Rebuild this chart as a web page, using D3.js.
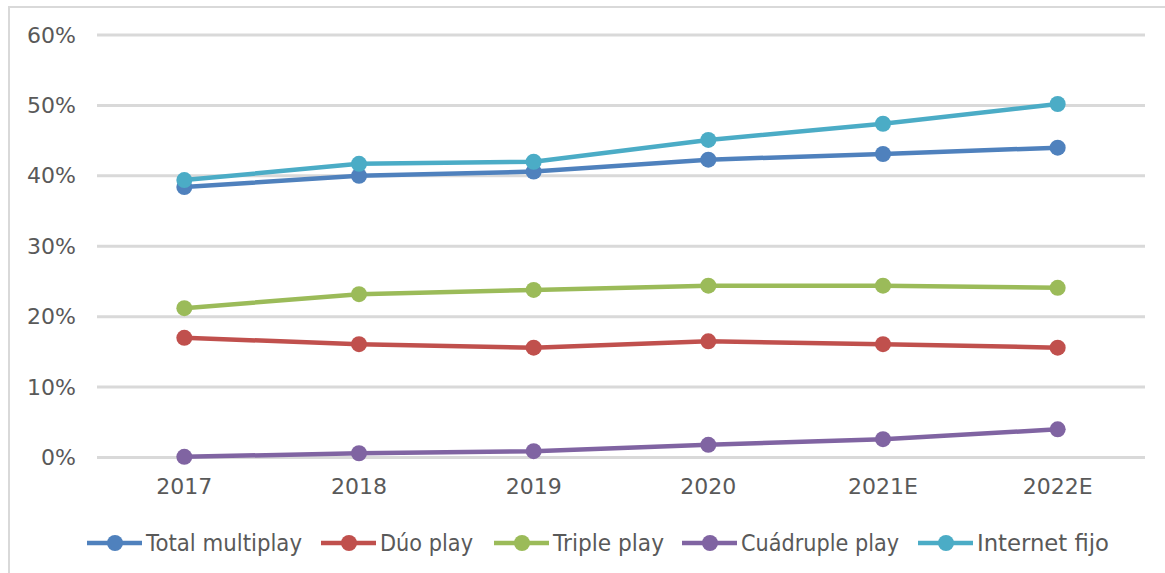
<!DOCTYPE html>
<html>
<head>
<meta charset="utf-8">
<script src="https://cdn.jsdelivr.net/npm/d3@7"></script>
<style>
  body { margin: 0; background: #fff; }
  text { font-family: "DejaVu Sans", Verdana, sans-serif; fill: #595959; }
</style>
</head>
<body>
<div id="chart"></div>
<script>
// categories and series values (percent)
let years = ["2017", "2018", "2019", "2020", "2021E", "2022E"];
let totalMultiplay = [38.4, 40.0, 40.6, 42.3, 43.1, 44.0];
let duoPlay = [17.0, 16.1, 15.6, 16.5, 16.1, 15.6];
let triplePlay = [21.2, 23.2, 23.8, 24.4, 24.4, 24.1];
let cuadruplePlay = [0.1, 0.6, 0.9, 1.8, 2.6, 4.0];
let internetFijo = [39.4, 41.7, 42.0, 45.1, 47.4, 50.2];
let seriesNames = ["Total multiplay", "Dúo play", "Triple play", "Cuádruple play", "Internet fijo"];
let yTicks = [0, 10, 20, 30, 40, 50, 60];

let colors = ["#4F81BD", "#C0504D", "#9BBB59", "#8064A2", "#4BACC6"];
let series = [totalMultiplay, duoPlay, triplePlay, cuadruplePlay, internetFijo].map(function(v, i) {
    return { name: seriesNames[i], color: colors[i], values: v };
});

let width = 1165, height = 573;
let plot = {left: 97, right: 1145, top: 35, bottom: 457.5};

let svg = d3.select("#chart")
    .append("svg")
    .attr("width", width)
    .attr("height", height);

// outer chart frame (only top and left edges visible)
svg.append("path")
    .attr("d", "M9,573 V7 H1165")
    .attr("fill", "none")
    .attr("stroke", "#d9d9d9")
    .attr("stroke-width", 2);

let x = d3.scaleBand()
    .domain(years)
    .range([plot.left, plot.right]);

let y = d3.scaleLinear()
    .domain([0, 60])
    .range([plot.bottom, plot.top]);

// gridlines
svg.append("g")
    .selectAll("line")
    .data(yTicks)
    .enter()
    .append("line")
    .attr("x1", plot.left)
    .attr("x2", plot.right)
    .attr("y1", function(d) { return y(d); })
    .attr("y2", function(d) { return y(d); })
    .attr("stroke", "#d9d9d9")
    .attr("stroke-width", 3);

// Y axis labels
let yAxis = svg.append("g")
    .attr("transform", "translate(76,0)")
    .call(d3.axisLeft(y).tickValues(yTicks).tickSize(0).tickPadding(0)
        .tickFormat(function(d) { return d + "%"; }));
yAxis.select(".domain").remove();
yAxis.selectAll("text")
    .style("font-size", "22px")
    .style("font-family", "'DejaVu Sans', sans-serif")
    .attr("fill", "#595959");

// X axis labels
let xAxis = svg.append("g")
    .attr("transform", "translate(0," + 478 + ")")
    .call(d3.axisBottom(x).tickSize(0).tickPadding(0));
xAxis.select(".domain").remove();
xAxis.selectAll("text")
    .style("font-size", "22px")
    .style("font-family", "'DejaVu Sans', sans-serif")
    .attr("fill", "#595959");

// lines and markers
let line = d3.line()
    .x(function(d, i) { return x(years[i]) + x.bandwidth() / 2; })
    .y(function(d) { return y(d); });

series.forEach(function(s) {
    let g = svg.append("g");
    g.append("path")
        .datum(s.values)
        .attr("fill", "none")
        .attr("stroke", s.color)
        .attr("stroke-width", 4.5)
        .attr("stroke-linejoin", "round")
        .attr("d", line);
    g.selectAll("circle")
        .data(s.values)
        .enter()
        .append("circle")
        .attr("cx", function(d, i) { return x(years[i]) + x.bandwidth() / 2; })
        .attr("cy", function(d) { return y(d); })
        .attr("r", 8)
        .attr("fill", s.color);
});

// legend
let legendX = [87, 321, 494, 682, 918];
let legendTextW = [156, 93, 111, 158, 132];
let legendY = 543;
let legend = svg.append("g")
    .selectAll("g")
    .data(series)
    .enter()
    .append("g")
    .attr("transform", function(d, i) { return "translate(" + legendX[i] + "," + legendY + ")"; });
legend.append("line")
    .attr("x1", 0).attr("x2", 55)
    .attr("stroke", function(d) { return d.color; })
    .attr("stroke-width", 4.5);
legend.append("circle")
    .attr("cx", 28).attr("r", 8)
    .attr("fill", function(d) { return d.color; });
legend.append("text")
    .attr("x", 59)
    .attr("dy", "0.36em")
    .attr("textLength", function(d, i) { return legendTextW[i]; })
    .attr("lengthAdjust", "spacingAndGlyphs")
    .style("font-size", "23px")
    .text(function(d) { return d.name; });
</script>
</body>
</html>
